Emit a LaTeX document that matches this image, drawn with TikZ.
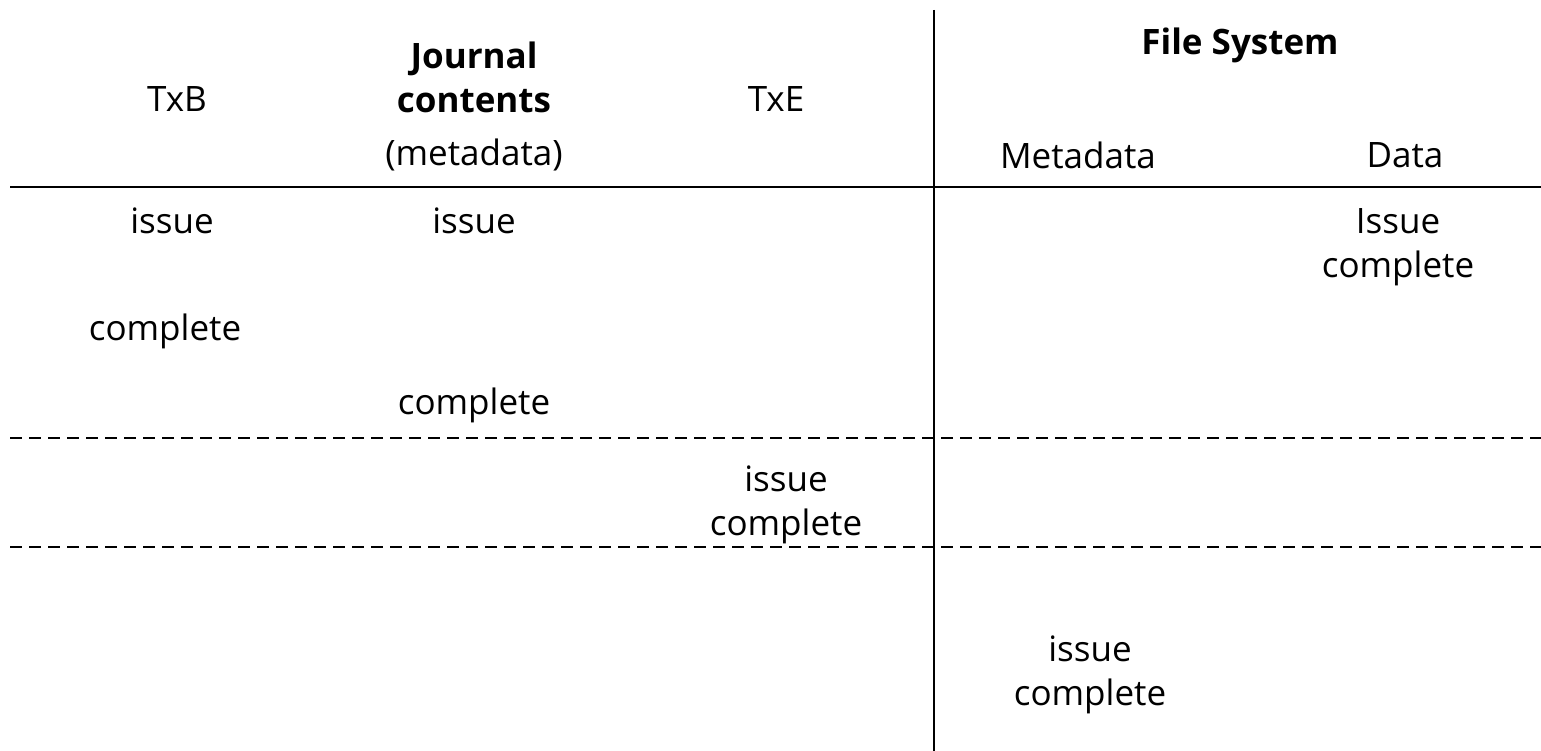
\documentclass[tikz,border=0pt]{standalone}
\usepackage{fontspec}
\setmainfont{Open Sans}
\begin{document}
\begin{tikzpicture}[x=1pt,y=-1pt,
  lbl/.style={inner sep=0pt,align=center,font=\fontsize{35}{44}\selectfont},
  head/.style={lbl,font=\fontsize{35}{44}\selectfont\bfseries},
  rule/.style={line width=1.8pt},
  sep/.style={line width=1.8pt,dash pattern=on 12pt off 7pt}]
\useasboundingbox (0,0) rectangle (1541,751);
% frame lines
\coordinate (vt) at (934,10);
\coordinate (vb) at (934,751);
\coordinate (hl) at (10,187);
\coordinate (hr) at (1541,187);
\coordinate (d1l) at (10,438);
\coordinate (d1r) at (1541,438);
\coordinate (d2l) at (10,547);
\coordinate (d2r) at (1541,547);
\draw[rule] (vt) -- (vb);
\draw[rule] (hl) -- (hr);
\draw[sep] (d1l) -- (d1r);
\draw[sep] (d2l) -- (d2r);
% header
\node[lbl] (txb) at (177,99) {TxB};
\node[head] (jc) at (474,77) {Journal\\contents};
\node[lbl] (jm) at (474,155) {(metadata)};
\node[lbl] (txe) at (776,99) {TxE};
\node[head] (fs) at (1240,45) {File System};
\node[lbl] (fsm) at (1078,155) {Metadata};
\node[lbl] (fsd) at (1405,155) {Data};
% body
\node[lbl] (b1) at (172,221) {issue};
\node[lbl] (j1) at (474,221) {issue};
\node[lbl] (d1) at (1398,247) {Issue\\complete};
\node[lbl] (b2) at (165,331) {complete};
\node[lbl] (j2) at (474,405) {complete};
\node[lbl] (e1) at (786,505) {issue\\complete};
\node[lbl] (m1) at (1090,675) {issue\\complete};
\end{tikzpicture}
\end{document}
